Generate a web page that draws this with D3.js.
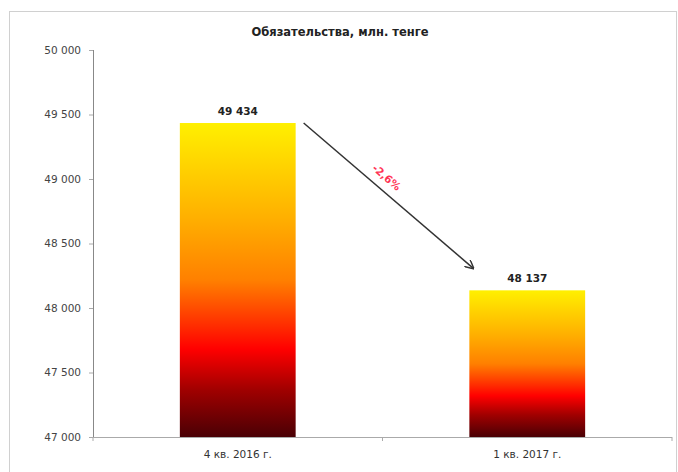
<!DOCTYPE html>
<html>
<head>
<meta charset="utf-8">
<script src="https://cdn.jsdelivr.net/npm/d3@7"></script>
<style>
  body { margin: 0; background: #fff; }
  svg { display: block; font-family: "DejaVu Sans", Verdana, sans-serif; }
</style>
</head>
<body>
<script>
// data
const categories = ["4 кв. 2016 г.", "1 кв. 2017 г."];
const values = [49434, 48137];
const yTicks = [47000, 47500, 48000, 48500, 49000, 49500, 50000];
const changeLabel = "-2,6%";
const title = "Обязательства, млн. тенге";

const width = 678;
const height = 472;
const plotLeft = 93, plotRight = 672, plotTop = 50, plotBottom = 437;

const fmt = v => d3.format(",")(v).replace(/,/g, " ");

const svg = d3.select("body").append("svg")
    .attr("width", width)
    .attr("height", height);

// gradient for bars
const defs = svg.append("defs");
const grad = defs.append("linearGradient")
    .attr("id", "barGrad")
    .attr("x1", 0).attr("y1", 0).attr("x2", 0).attr("y2", 1);
[[0, "#fff000"], [0.3, "#ffb000"], [0.5, "#ff8000"], [0.65, "#ff2a00"],
 [0.72, "#ff0000"], [0.85, "#a00000"], [1, "#4a0005"]].forEach(s => {
    grad.append("stop").attr("offset", s[0]).attr("stop-color", s[1]);
});

// frame
svg.append("rect")
    .attr("x", 9.5).attr("y", 11.5)
    .attr("width", 667).attr("height", 480)
    .attr("fill", "none")
    .attr("stroke", "#d0d0d0");

// title
svg.append("text")
    .attr("x", 340).attr("y", 36)
    .attr("text-anchor", "middle")
    .attr("font-size", 11.5)
    .attr("font-weight", "bold")
    .attr("fill", "#222")
    .text(title);

//Scales
const xScale = d3.scaleBand()
    .domain(categories)
    .range([plotLeft, plotRight])
    .paddingInner(0.6)
    .paddingOuter(0.3);

const yScale = d3.scaleLinear()
    .domain([47000, 50000])
    .range([plotBottom, plotTop]);

//Bars
svg.selectAll("rect.bar")
    .data(values)
    .enter()
    .append("rect")
    .attr("class", "bar")
    .attr("x", (d, i) => xScale(categories[i]))
    .attr("y", d => yScale(d))
    .attr("width", xScale.bandwidth())
    .attr("height", d => plotBottom - yScale(d))
    .attr("fill", "url(#barGrad)");

// value labels
svg.selectAll("text.val")
    .data(values)
    .enter()
    .append("text")
    .attr("class", "val")
    .attr("x", (d, i) => xScale(categories[i]) + xScale.bandwidth() / 2)
    .attr("y", d => yScale(d) - 8)
    .attr("text-anchor", "middle")
    .attr("font-size", 10.5)
    .attr("font-weight", "bold")
    .attr("fill", "#222")
    .text(d => fmt(d));

//Axes
const leftAxis = d3.axisLeft(yScale)
    .tickValues(yTicks)
    .tickSize(4)
    .tickPadding(8)
    .tickFormat(fmt);

const gy = svg.append("g")
    .attr("transform", "translate(" + plotLeft + ",0)")
    .call(leftAxis);
gy.select(".domain").attr("stroke", "#888").attr("d", "M0.5," + plotTop + "V" + plotBottom);
gy.selectAll(".tick line").attr("stroke", "#aaa");
gy.selectAll(".tick text").attr("font-size", 10.5).attr("fill", "#444")
    .attr("font-family", "DejaVu Sans, Verdana, sans-serif");

// x axis line with ticks between categories
const gx = svg.append("g").attr("transform", "translate(0," + plotBottom + ")");
gx.append("line")
    .attr("x1", plotLeft).attr("x2", plotRight)
    .attr("y1", 0.5).attr("y2", 0.5)
    .attr("stroke", "#aaa");
const sepX = [plotLeft, (xScale(categories[0]) + xScale.bandwidth() + xScale(categories[1])) / 2, plotRight];
gx.selectAll("line.sep")
    .data(sepX)
    .enter()
    .append("line")
    .attr("class", "sep")
    .attr("x1", d => d).attr("x2", d => d)
    .attr("y1", 0).attr("y2", 4)
    .attr("stroke", "#aaa");
gx.selectAll("text")
    .data(categories)
    .enter()
    .append("text")
    .attr("x", d => xScale(d) + xScale.bandwidth() / 2)
    .attr("y", 21)
    .attr("text-anchor", "middle")
    .attr("font-size", 10.5)
    .attr("fill", "#333")
    .text(d => d);

// arrow showing change
defs.append("marker")
    .attr("id", "arrowHead")
    .attr("viewBox", "0 0 10 10")
    .attr("refX", 9).attr("refY", 5)
    .attr("markerWidth", 9).attr("markerHeight", 9)
    .attr("markerUnits", "userSpaceOnUse")
    .attr("orient", "auto")
    .append("path")
    .attr("d", "M0,0 L10,5 L0,10")
    .attr("fill", "none")
    .attr("stroke", "#333")
    .attr("stroke-width", 1.6);

const x1 = xScale(categories[0]) + xScale.bandwidth() + 8;
const y1 = yScale(values[0]);
const x2 = xScale(categories[1]) + 4;
const y2 = yScale(values[1]) - 22;
svg.append("line")
    .attr("x1", x1).attr("y1", y1)
    .attr("x2", x2).attr("y2", y2)
    .attr("stroke", "#333")
    .attr("stroke-width", 1.5)
    .attr("marker-end", "url(#arrowHead)");

const ang = Math.atan2(y2 - y1, x2 - x1) * 180 / Math.PI;
const mx = x1 + (x2 - x1) * 0.44, my = y1 + (y2 - y1) * 0.44;
svg.append("text")
    .attr("transform", "translate(" + mx + "," + my + ") rotate(" + ang + ") translate(0,-9)")
    .attr("text-anchor", "middle")
    .attr("font-size", 10.5)
    .attr("font-weight", "bold")
    .attr("fill", "#ff3355")
    .text(changeLabel);
</script>
</body>
</html>
